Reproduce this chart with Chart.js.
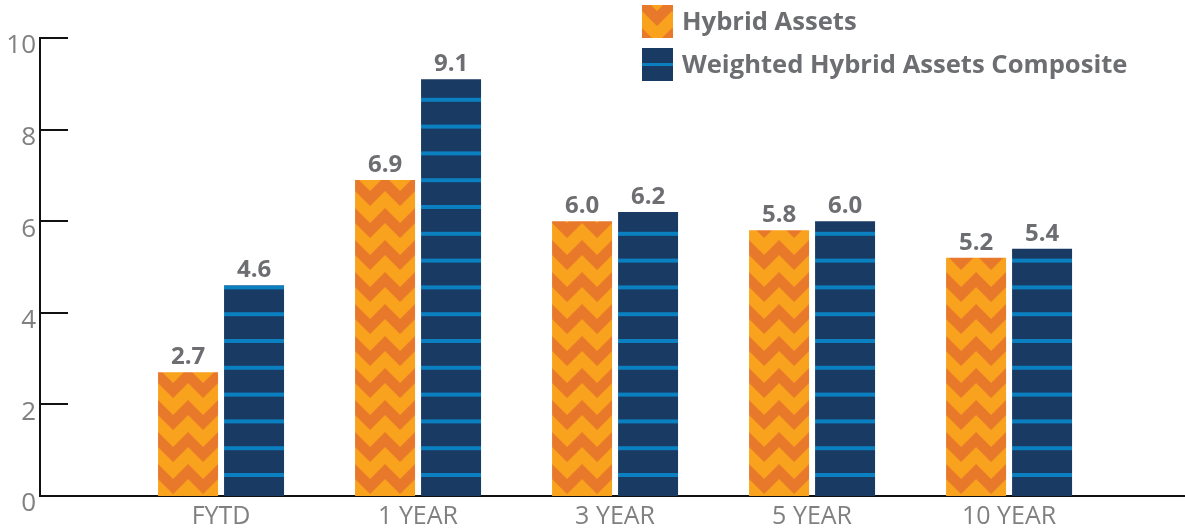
<!DOCTYPE html>
<html>
<head>
<meta charset="utf-8">
<script src="https://cdn.jsdelivr.net/npm/chart.js@4"></script>
<style>
  html, body { margin: 0; padding: 0; background: #fff; }
  .chart_wrapper { width: 1185px; height: 529px; position: relative; }
</style>
</head>
<body>
<div class="chart_wrapper"><canvas id="Bar_Chart"></canvas></div>
<script>
var categories = ["FYTD", "1 YEAR", "3 YEAR", "5 YEAR", "10 YEAR"];
var hybridAssets = [2.7, 6.9, 6.0, 5.8, 5.2];
var weightedComposite = [4.6, 9.1, 6.2, 6.0, 5.4];
var seriesLabels = ["Hybrid Assets", "Weighted Hybrid Assets Composite"];
var yTicks = [0, 2, 4, 6, 8, 10];

var ORANGE_LIGHT = '#F9A21E';
var ORANGE_DARK = '#E8792B';
var NAVY = '#183A63';
var STRIPE = '#0B80C1';
var GREY_TEXT = '#6D6E71';
var TICK_TEXT = '#808080';

function toPoints(values) {
  return values.map(function(v, i) { return {x: i, y: v}; });
}

// zigzag tile, tips pointing down
function chevronPattern(ctx, offsetX, offsetY) {
  var tile = document.createElement('canvas');
  tile.width = 30; tile.height = 32;
  var t = tile.getContext('2d');
  t.fillStyle = ORANGE_LIGHT;
  t.fillRect(0, 0, 30, 32);
  t.fillStyle = ORANGE_DARK;
  [-32, 0, 32].forEach(function(dy) {
    t.beginPath();
    t.moveTo(0, dy); t.lineTo(15, dy + 15); t.lineTo(30, dy);
    t.lineTo(30, dy + 15); t.lineTo(15, dy + 30); t.lineTo(0, dy + 15);
    t.closePath();
    t.fill();
  });
  var p = ctx.createPattern(tile, 'repeat');
  p.setTransform(new DOMMatrix().translate(offsetX, offsetY));
  return p;
}

// navy with thin horizontal stripes
function stripePattern(ctx, offsetY) {
  var period = 26.8, n = 5;
  var tile = document.createElement('canvas');
  tile.width = 4; tile.height = Math.round(period * n);
  var t = tile.getContext('2d');
  t.fillStyle = NAVY;
  t.fillRect(0, 0, 4, tile.height);
  t.fillStyle = STRIPE;
  for (var k = 0; k < n; k++) t.fillRect(0, k * period, 4, 4);
  var p = ctx.createPattern(tile, 'repeat');
  p.setTransform(new DOMMatrix().translate(0, offsetY));
  return p;
}

var barLabels = {
  id: 'barLabels',
  afterDatasetsDraw: function(chart) {
    var ctx = chart.ctx;
    ctx.save();
    ctx.font = 'bold 24px "Open Sans"';
    ctx.fillStyle = GREY_TEXT;
    ctx.textAlign = 'center';
    ctx.textBaseline = 'alphabetic';
    chart.data.datasets.forEach(function(ds, di) {
      chart.getDatasetMeta(di).data.forEach(function(bar, i) {
        ctx.fillText(ds.data[i].y.toFixed(1), bar.x, bar.y - 8);
      });
    });
    ctx.restore();
  }
};

var innerTicks = {
  id: 'innerTicks',
  afterDatasetsDraw: function(chart) {
    var ctx = chart.ctx, y = chart.scales.y, a = chart.chartArea;
    ctx.save();
    ctx.strokeStyle = '#111';
    ctx.lineWidth = 2;
    yTicks.forEach(function(v) {
      var py = Math.round(y.getPixelForValue(v));
      ctx.beginPath();
      ctx.moveTo(a.left, py);
      ctx.lineTo(a.left + 28, py);
      ctx.stroke();
    });
    ctx.restore();
  }
};

var legendBox = {
  id: 'legendBox',
  afterDraw: function(chart) {
    var ctx = chart.ctx;
    var x = 642, w = 31, h = 33;
    var rows = [5, 48];
    ctx.save();
    ctx.fillStyle = chevronPattern(ctx, x, rows[0] - 9);
    ctx.fillRect(x, rows[0], w, h);
    ctx.fillStyle = NAVY;
    ctx.fillRect(x, rows[1], w, h);
    ctx.fillStyle = STRIPE;
    ctx.fillRect(x, rows[1] + 15, w, 3);
    ctx.font = 'bold 25.6px "Open Sans"';
    ctx.fillStyle = GREY_TEXT;
    ctx.textBaseline = 'middle';
    seriesLabels.forEach(function(l, i) {
      ctx.fillText(l, x + 40, rows[i] + h / 2 + 1);
    });
    ctx.restore();
  }
};

var ctx = document.getElementById('Bar_Chart');
var myBarChart = new Chart(ctx, {
  type: 'bar',
  data: {
    datasets: [{
      label: seriesLabels[0],
      data: toPoints(hybridAssets),
      backgroundColor: function(c) {
        if (c.type !== 'data') return ORANGE_LIGHT;
        var ch = c.chart;
        var gx = ch.scales.x.getPixelForValue(c.dataIndex);
        var y0 = ch.scales.y.getPixelForValue(0);
        return chevronPattern(ch.ctx, gx - 3, y0);
      }
    }, {
      label: seriesLabels[1],
      data: toPoints(weightedComposite),
      backgroundColor: function(c) {
        if (c.type !== 'data') return NAVY;
        var y0 = c.chart.scales.y.getPixelForValue(0);
        return stripePattern(c.chart.ctx, y0 - 23);
      }
    }]
  },
  options: {
    responsive: true,
    maintainAspectRatio: false,
    animation: false,
    categoryPercentage: 0.67,
    barPercentage: 0.909,
    layout: { padding: { top: 38, right: 0, left: 0, bottom: 0 } },
    plugins: {
      legend: { display: false },
      tooltip: { enabled: false }
    },
    scales: {
      x: {
        type: 'linear',
        offset: false,
        bounds: 'data',
        min: -0.919,
        max: 4.893,
        afterBuildTicks: function(scale) {
          scale.ticks = categories.map(function(c, i) { return {value: i}; });
        },
        afterFit: function(scale) { scale.height = 33; },
        grid: { display: false, drawTicks: false },
        border: { display: true, color: '#111', width: 2 },
        ticks: {
          autoSkip: false,
          maxRotation: 0,
          padding: 6,
          color: TICK_TEXT,
          font: { family: '"Open Sans"', size: 25 },
          callback: function(v) { return categories[v]; }
        }
      },
      y: {
        min: 0,
        max: 10,
        afterFit: function(scale) { scale.width = 40; },
        grid: { display: false, drawTicks: false },
        border: { display: true, color: '#111', width: 2 },
        ticks: {
          stepSize: 2,
          padding: 4,
          labelOffset: 8,
          color: TICK_TEXT,
          font: { family: '"Open Sans"', size: 26 }
        }
      }
    }
  },
  plugins: [barLabels, innerTicks, legendBox]
});
</script>
</body>
</html>
